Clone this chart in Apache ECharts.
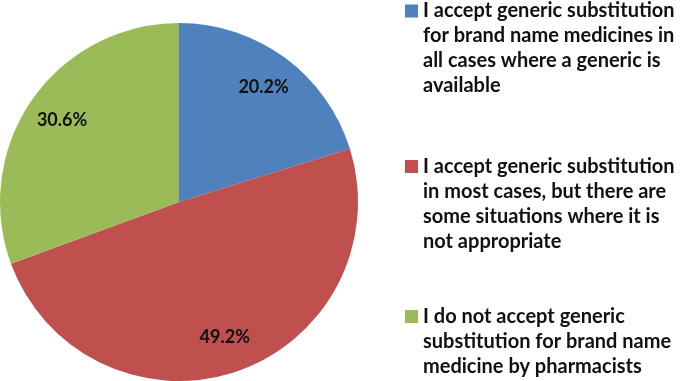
<!DOCTYPE html>
<html>
<head>
<meta charset="utf-8">
<script src="https://cdn.jsdelivr.net/npm/echarts@6/dist/echarts.min.js"></script>
<style>
  html, body { margin: 0; padding: 0; background: #fff; }
  #chart { width: 685px; height: 381px; }
</style>
</head>
<body>
<div id="chart"></div>
<script>
// answers and their shares (%)
var categories = [
  'I accept generic substitution\nfor brand name medicines in\nall cases where a generic is\navailable',
  'I accept generic substitution\nin most cases, but there are\nsome situations where it is\nnot appropriate',
  'I do not accept generic\nsubstitution for brand name\nmedicine by pharmacists'
];
var shares = [20.2, 49.2, 30.6];
var colors = ['#4F81BD', '#C0504D', '#9BBB59'];

var FONT = 'Lato';
var LH = 25;
var CX = 179, CY = 202, R = 179;

var myChart = echarts.init(document.getElementById('chart'));

// one legend per answer; blank lines on top so the square sits at the first line
var legendTops = [-76.5, 79, 254];
var legends = categories.map(function (name, i) {
  var lines = name.split('\n').length;
  return {
    data: [name],
    orient: 'vertical',
    left: 405,
    top: legendTops[i],
    padding: 0,
    icon: 'rect',
    itemWidth: 13,
    itemHeight: 13,
    selectedMode: false,
    formatter: function (n) {
      return new Array(lines).join('\n') + n;
    },
    textStyle: {
      fontFamily: FONT,
      fontWeight: 'bold',
      fontSize: 20,
      color: '#111',
      lineHeight: LH
    }
  };
});

var pieData = categories.map(function (c, i) {
  return { name: c, value: shares[i] };
});

var option = {
  animation: false,
  color: colors,
  legend: legends,
  series: [{
    type: 'pie',
    center: [CX, CY],
    radius: R,
    startAngle: 90,
    clockwise: true,
    silent: true,
    itemStyle: { borderWidth: 0 },
    label: { show: false },
    labelLine: { show: false },
    data: pieData
  }, {
    // invisible ring, only used to put the labels out near the rim
    type: 'pie',
    center: [CX, CY],
    radius: [R * 0.56, R],
    startAngle: 90,
    clockwise: true,
    silent: true,
    itemStyle: { color: 'transparent', borderWidth: 0 },
    label: {
      show: true,
      position: 'inside',
      formatter: function (p) { return p.value.toFixed(1) + '%'; },
      fontFamily: FONT,
      fontWeight: 'bold',
      fontSize: 18,
      color: '#111'
    },
    labelLine: { show: false },
    data: pieData
  }]
};
myChart.setOption(option);
</script>
</body>
</html>
